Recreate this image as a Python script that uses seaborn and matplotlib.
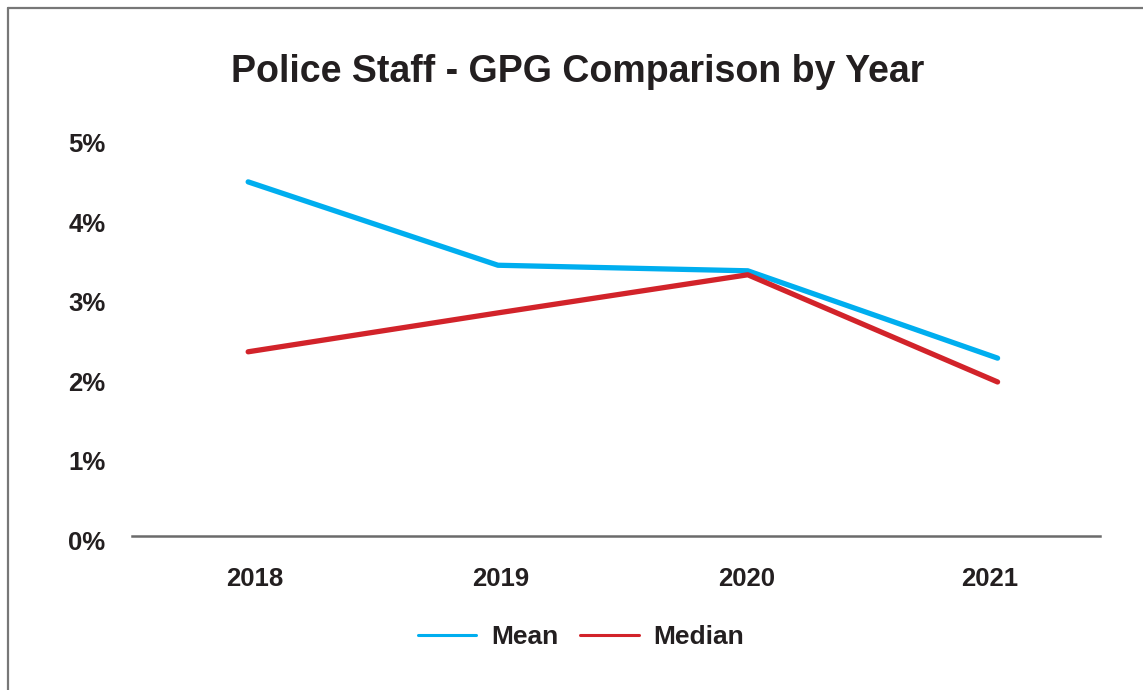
import matplotlib
matplotlib.use("Agg")
import matplotlib.pyplot as plt
import matplotlib.transforms as mtransforms
from matplotlib.lines import Line2D
import seaborn as sns
import pandas as pd

years = ["2018", "2019", "2020", "2021"]
mean_gap = [4.46, 3.41, 3.34, 2.24]
median_gap = [2.32, 2.81, 3.29, 1.94]
series_names = ["Mean", "Median"]
y_ticks = [0, 1, 2, 3, 4, 5]
y_tick_labels = ["0%", "1%", "2%", "3%", "4%", "5%"]
title = "Police Staff - GPG Comparison by Year"

colors = {"Mean": "#00AEEF", "Median": "#D2232A"}

df = pd.DataFrame({
    "Year": years * 2,
    "GPG": mean_gap + median_gap,
    "Measure": [series_names[0]] * len(years) + [series_names[1]] * len(years),
})

sns.set_theme(style="white")
plt.rcParams["font.family"] = ["Liberation Sans", "DejaVu Sans"]
plt.rcParams["font.weight"] = "bold"

W, H = 1143, 690
fig = plt.figure(figsize=(W / 100, H / 100), dpi=100)
ax = fig.add_axes([132 / W, 1 - 536 / H, (1100 - 132) / W, (536 - 139) / H])

sns.lineplot(data=df, x="Year", y="GPG", hue="Measure", palette=colors,
             linewidth=3.8, ax=ax, legend=False, sort=False)

ax.set_xlim(-0.465, 3.41)
ax.set_ylim(0, 5)
ax.set_yticks(y_ticks)
ax.set_yticklabels(y_tick_labels)
# category labels sit slightly off the data points, as in the reference
ax.set_xticks([0.028, 1.009, 1.994, 2.968])
ax.set_xticklabels(years)
ax.set_xlabel("")
ax.set_ylabel("")
for s in ["top", "right", "left"]:
    ax.spines[s].set_visible(False)
ax.spines["bottom"].set_color("#6b6b6b")
ax.spines["bottom"].set_linewidth(1.8)
ax.tick_params(axis="both", length=0, colors="#231f20")
ax.tick_params(axis="y", pad=19, labelsize=18.5)
ax.tick_params(axis="x", pad=22, labelsize=18.5)
for lab in ax.get_yticklabels():
    lab.set_fontweight("bold")
    lab.set_transform(lab.get_transform() + mtransforms.ScaledTranslation(0, -4 / 100, fig.dpi_scale_trans))
for lab in ax.get_xticklabels():
    lab.set_fontweight("bold")

fig.text(578 / W, 1 - 72 / H, title, ha="center", va="center",
         fontsize=27, fontweight="bold", color="#231f20")

handles = [Line2D([], [], color=colors[n], lw=2.2) for n in series_names]
leg = fig.legend(handles, series_names, loc="center", bbox_to_anchor=(581 / W, 1 - 637 / H),
                 ncol=2, frameon=False, handlelength=2.2, handletextpad=0.55,
                 columnspacing=0.85, prop={"size": 19, "weight": "bold"})
for t in leg.get_texts():
    t.set_color("#231f20")

# outer border (left and top edges visible)
fig.add_artist(Line2D([7.5 / W, 7.5 / W], [0, 1 - 8 / H], color="#777777", lw=1.6,
                      transform=fig.transFigure))
fig.add_artist(Line2D([7.5 / W, 1], [1 - 8 / H, 1 - 8 / H], color="#777777", lw=1.6,
                      transform=fig.transFigure))

fig.savefig("out.png", dpi=100)
